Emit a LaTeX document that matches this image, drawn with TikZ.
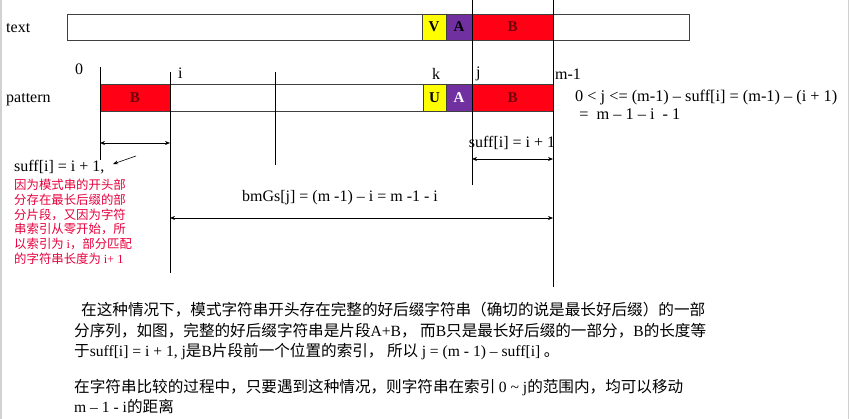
\documentclass[tikz,border=0pt]{standalone}
\usepackage{fontspec}
\setmainfont{Liberation Serif}
\newfontfamily\cjk{Noto Sans CJK SC}
\usetikzlibrary{positioning,arrows.meta}
\definecolor{segred}{RGB}{255,0,20}
\definecolor{segyellow}{RGB}{255,255,0}
\definecolor{segpurple}{RGB}{112,48,160}
\definecolor{notered}{RGB}{230,0,60}
\definecolor{lblred}{RGB}{110,0,10}
\newcommand{\enpart}[1]{{\rmfamily #1}}
\tikzset{
  cell/.style ={rectangle, draw=black!75, line width=0.8pt, inner sep=0pt, outer sep=0pt,
                font=\bfseries\fontsize{15}{15}\selectfont},
  rowlbl/.style ={anchor=west, inner sep=0pt, font=\fontsize{16}{16}\selectfont},
  idxline/.style ={line width=1pt, draw=black},
  dimarrow/.style ={{Stealth[length=5pt,width=4pt]}-{Stealth[length=5pt,width=4pt]}, line width=0.7pt},
}
\begin{document}
\begin{tikzpicture}[x=1pt, y=-1pt, node distance=0pt]
\useasboundingbox (0,0) rectangle (851,419);
\draw[gray!35, line width=1.5pt] (1,0) -- (1,419) (848.5,0) -- (848.5,419);
% text row
\node[cell, anchor=west, minimum width=622pt, minimum height=26pt] (tbar) at (67,27) {};
\node[cell, anchor=west, fill=segyellow, minimum width=24pt, minimum height=26pt] (tV) at (422,27) {V};
\node[cell, fill=segpurple, minimum width=26pt, minimum height=26pt, right=of tV] (tA) {A};
\node[cell, fill=segred, text=lblred, minimum width=81pt, minimum height=26pt, right=of tA] (tB) {B};
% pattern row
\node[cell, anchor=west, fill=segred, text=lblred, minimum width=70pt, minimum height=27pt] (pB0) at (100,97.5) {B};
\node[cell, minimum width=105pt, minimum height=27pt, right=of pB0] (pE1) {};
\node[cell, minimum width=148pt, minimum height=27pt, right=of pE1] (pE2) {};
\node[cell, fill=segyellow, minimum width=23pt, minimum height=27pt, right=of pE2] (pU) {U};
\node[cell, fill=segpurple, text=white, minimum width=26pt, minimum height=27pt, right=of pU] (pA) {A};
\node[cell, fill=segred, text=lblred, minimum width=81pt, minimum height=27pt, right=of pA] (pB) {B};

\node[rowlbl] (ltext) at (6,28) {text};
\node[rowlbl] (lpat) at (6,100) {pattern};
\node[rowlbl] (l0) at (75,69) {0};
\node[rowlbl] (li) at (178,73) {i};
\node[rowlbl] (lk) at (432,74) {k};
\node[rowlbl] (lj) at (476,74) {j};
\node[rowlbl] (lm) at (555,74) {m-1};

% index lines
\coordinate (j0) at (472,0);   \coordinate (j1) at (472,185);
\coordinate (m0) at (553,0);   \coordinate (m1) at (553,287);
\coordinate (z0) at (100,67);  \coordinate (z1) at (100,160);
\coordinate (i0) at (170,72);  \coordinate (i1) at (170,273);
\coordinate (q0) at (275,72);  \coordinate (q1) at (275,165);
\foreach \a/\b in {j0/j1,m0/m1,z0/z1,i0/i1,q0/q1} \draw[idxline] (\a) -- (\b);

% spans
\coordinate (sa) at (100,143); \coordinate (sb) at (170,143);
\coordinate (sc) at (472,159); \coordinate (sd) at (553,159);
\coordinate (se) at (170,218); \coordinate (sf) at (553,218);
\foreach \a/\b in {sa/sb,sc/sd,se/sf} \draw[dimarrow] (\a) -- (\b);
\coordinate (pt0) at (136,156); \coordinate (pt1) at (113,164);
\draw[-{Stealth[length=5pt,width=4pt]}, line width=0.6pt] (pt0) -- (pt1);

\node[rowlbl, anchor=center] (sj) at (512,143) {suff[i] = i + 1};
\node[rowlbl] (si) at (14,167) {suff[i] = i + 1,};
\node[anchor=north west, inner sep=0pt, align=left, text=notered,
      font=\cjk\fontsize{12.4}{14.7}\selectfont] (why) at (14,179)
  {因为模式串的开头部\\分存在最长后缀的部\\分片段，又因为字符\\串索引从零开始，所\\以索引为 \enpart{i}，部分匹配\\的字符串长度为 \enpart{i+ 1}};
\node[rowlbl, anchor=center] (gs) at (340,198) {bmGs[j] = (m -1) -- i = m -1 - i};
\node[anchor=north west, inner sep=0pt, align=left,
      font=\fontsize{16.3}{18}\selectfont] (cond) at (575,90)
  {0 < j <= (m-1) -- suff[i] = (m-1) -- (i + 1)\\\ = \ m -- 1 -- i \ - 1};

\node[anchor=north west, inner sep=0pt, align=left,
      font=\cjk\fontsize{15.6}{20.5}\selectfont] (note) at (74,302)
  {\hspace{7pt}在这种情况下，模式字符串开头存在完整的好后缀字符串（确切的说是最长好后缀）的一部\\
   分序列，如图，完整的好后缀字符串是片段\enpart{A+B}， 而\enpart{B}只是最长好后缀的一部分，\enpart{B}的长度等\\
   于\enpart{suff[i] = i + 1, j}是\enpart{B}片段前一个位置的索引， 所以 \enpart{j = (m - 1) -- suff[i]} 。\\[15pt]
   在字符串比较的过程中，只要遇到这种情况，则字符串在索引 \enpart{0 \textasciitilde\ j}的范围内，均可以移动\\
   \enpart{m -- 1 - i}的距离};
\end{tikzpicture}
\end{document}
